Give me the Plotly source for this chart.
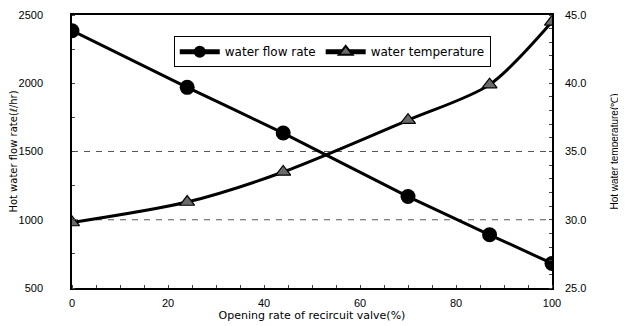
import plotly.graph_objects as go

opening = [0, 24, 44, 70, 87, 100]
flow_rate = [2385, 1970, 1635, 1170, 890, 680]
water_temp = [29.8, 31.3, 33.5, 37.3, 39.9, 44.5]
dashed_levels = [1000, 1500]
x_ticks = [0, 20, 40, 60, 80, 100]
left_ticks = [500, 1000, 1500, 2000, 2500]
right_ticks = [25.0, 30.0, 35.0, 40.0, 45.0]

font = "DejaVu Sans, Arial, sans-serif"
font_narrow = "Liberation Sans, Arial, sans-serif"

fig = go.Figure()
fig.add_trace(go.Scatter(
    x=opening, y=flow_rate, name="water flow rate",
    mode="lines+markers",
    line=dict(color="black", width=3, shape="spline", smoothing=0.3),
    marker=dict(symbol="circle", size=15, color="black"),
))
fig.add_trace(go.Scatter(
    x=opening, y=water_temp, name="water temperature", yaxis="y2",
    mode="lines+markers",
    line=dict(color="black", width=3, shape="spline", smoothing=0.8),
    marker=dict(symbol="triangle-up", size=13, color="#6a6a6a",
                line=dict(color="black", width=1.2)),
))

for lv in dashed_levels:
    fig.add_shape(type="line", xref="paper", x0=0, x1=1, yref="y", y0=lv, y1=lv,
                  line=dict(color="#555", width=1, dash="6px,6px"), layer="below")

tickfont = dict(family=font_narrow, size=11)

# page body has an 8px margin: figure is sized to fit inside the 626x326 window
fig.update_layout(
    width=618, height=318,
    margin=dict(l=64, r=74, t=7, b=38, autoexpand=False),
    paper_bgcolor="white", plot_bgcolor="white",
    font=dict(family=font, size=10, color="black"),
    showlegend=True,
    legend=dict(orientation="h", x=0.212, y=0.922, xanchor="left", yanchor="top",
                bordercolor="black", borderwidth=1, bgcolor="white",
                font=dict(size=12, family=font), itemsizing="constant",
                itemwidth=40, tracegroupgap=0),
    xaxis=dict(range=[0, 100], tickvals=x_ticks, showline=True, linecolor="black",
               linewidth=1.5, mirror=True, showgrid=False, zeroline=False,
               automargin=False, ticks="", ticklabelstandoff=4, tickfont=tickfont,
               minor=dict(ticks="inside", ticklen=3, dtick=5, tickcolor="#444"),
               title=dict(text="Opening rate of recircuit valve(%)", standoff=3,
                          font=dict(size=11, family=font))),
    yaxis=dict(range=[500, 2500], tickvals=left_ticks, showline=True, linecolor="black",
               linewidth=1.5, mirror=True, showgrid=False, zeroline=False,
               automargin=False, ticks="", ticklabelstandoff=25, tickfont=tickfont,
               minor=dict(ticks="inside", ticklen=3, dtick=250, tickcolor="#444"),
               title=dict(text="Hot water flow rate(ℓ/hr)", standoff=0,
                          font=dict(size=10, family=font))),
    yaxis2=dict(range=[25, 45], tickvals=right_ticks, tickformat=".1f",
                overlaying="y", side="right", showline=True, linecolor="black",
                linewidth=1.5, showgrid=False, zeroline=False, ticks="",
                automargin=False, ticklabelstandoff=9, tickfont=tickfont,
                minor=dict(ticks="inside", ticklen=3, dtick=1, tickcolor="#444"),
                title=dict(text="Hot water temperature(℃)", standoff=26,
                           font=dict(size=10, family=font_narrow))),
)

fig.write_html("out.html")
